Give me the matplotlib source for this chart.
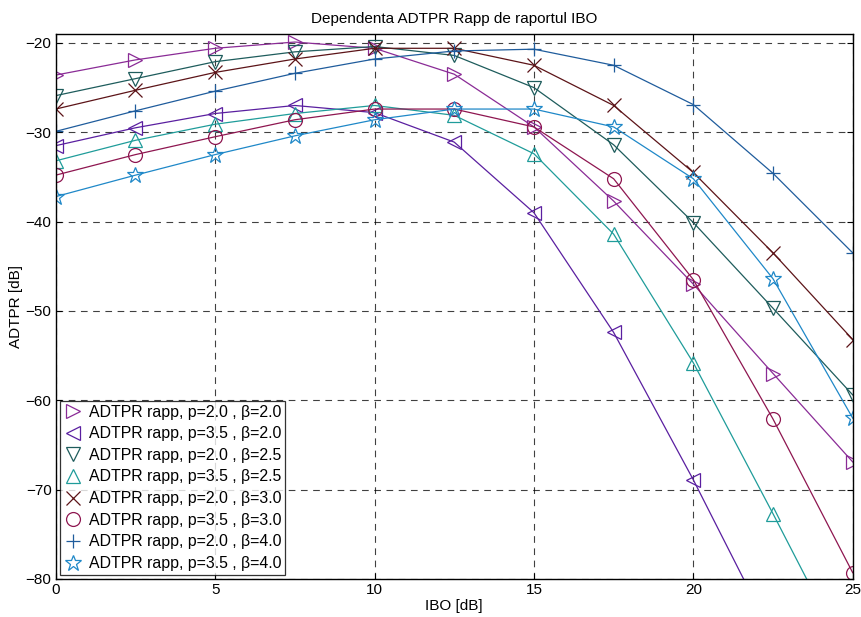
import numpy as np
import matplotlib.pyplot as plt

plt.rcParams['font.family'] = ['Liberation Sans', 'DejaVu Sans']

ibo = [0, 2.5, 5, 7.5, 10, 12.5, 15, 17.5, 20, 22.5, 25]

p20_b20 = [-23.6, -21.9, -20.6, -19.9, -20.6, -23.5, -29.4, -37.7, -47.0, -57.0, -66.9]
p35_b20 = [-31.5, -29.5, -27.9, -27.0, -27.8, -31.1, -39.0, -52.4, -68.9, -86.5, -105.0]
p20_b25 = [-25.9, -24.0, -22.1, -21.0, -20.4, -21.4, -25.0, -31.4, -40.1, -49.7, -59.4]
p35_b25 = [-33.2, -30.9, -29.1, -27.9, -27.0, -28.1, -32.4, -41.4, -55.8, -72.7, -90.0]
p20_b30 = [-27.4, -25.3, -23.3, -21.8, -20.6, -20.6, -22.5, -27.0, -34.5, -43.5, -53.2]
p35_b30 = [-34.8, -32.5, -30.5, -28.6, -27.4, -27.4, -29.4, -35.2, -46.5, -62.1, -79.3]
p20_b40 = [-29.9, -27.6, -25.4, -23.4, -21.8, -20.9, -20.7, -22.5, -26.9, -34.6, -43.5]
p35_b40 = [-37.2, -34.8, -32.5, -30.4, -28.6, -27.4, -27.4, -29.4, -35.2, -46.4, -62.0]

series = [
    (p20_b20, '>', '#8a2b96', 'ADTPR rapp, p=2.0 , β=2.0'),
    (p35_b20, '<', '#5a1fa0', 'ADTPR rapp, p=3.5 , β=2.0'),
    (p20_b25, 'v', '#1e5c5c', 'ADTPR rapp, p=2.0 , β=2.5'),
    (p35_b25, '^', '#1f9c9a', 'ADTPR rapp, p=3.5 , β=2.5'),
    (p20_b30, 'x', '#5c1418', 'ADTPR rapp, p=2.0 , β=3.0'),
    (p35_b30, 'o', '#8e1650', 'ADTPR rapp, p=3.5 , β=3.0'),
    (p20_b40, '+', '#1f5c9c', 'ADTPR rapp, p=2.0 , β=4.0'),
    (p35_b40, '*', '#1f88c8', 'ADTPR rapp, p=3.5 , β=4.0'),
]

fig = plt.figure(figsize=(8.61, 6.17), dpi=100)
ax = fig.add_axes([0.0647, 0.0616, 0.9257, 0.8833])

for vals, mk, col, lab in series:
    ax.plot(ibo, vals, '-', color=col, lw=0.9)
    ms = 12 if mk == '*' else 10
    ax.plot(ibo, vals, linestyle='none', marker=mk, color=col, mfc='none',
            ms=ms, mew=0.9, label=lab)

ax.set_xlim(0, 25)
ax.set_ylim(-80, -19)
ax.set_xticks([0, 5, 10, 15, 20, 25])
ax.set_yticks([-80, -70, -60, -50, -40, -30, -20])
ax.grid(True, color='black', linestyle=(0, (6, 5)), lw=0.8, alpha=0.75)
ax.tick_params(direction='in', top=True, right=True, labelsize=11, length=4, pad=3)
for s in ax.spines.values():
    s.set_linewidth(1.0)

ax.set_title('Dependenta ADTPR Rapp de raportul IBO', fontsize=11, pad=8)
ax.set_xlabel('IBO [dB]', fontsize=11, labelpad=1)
ax.set_ylabel('ADTPR [dB]', fontsize=11, labelpad=2)

leg = ax.legend(loc='lower left', fontsize=11.4, frameon=True, fancybox=False,
                edgecolor='black', borderpad=0.25, labelspacing=0.42,
                handlelength=1.2, handletextpad=0.4, borderaxespad=0.25)
leg.get_frame().set_linewidth(0.9)

fig.savefig('out.png', dpi=100)
